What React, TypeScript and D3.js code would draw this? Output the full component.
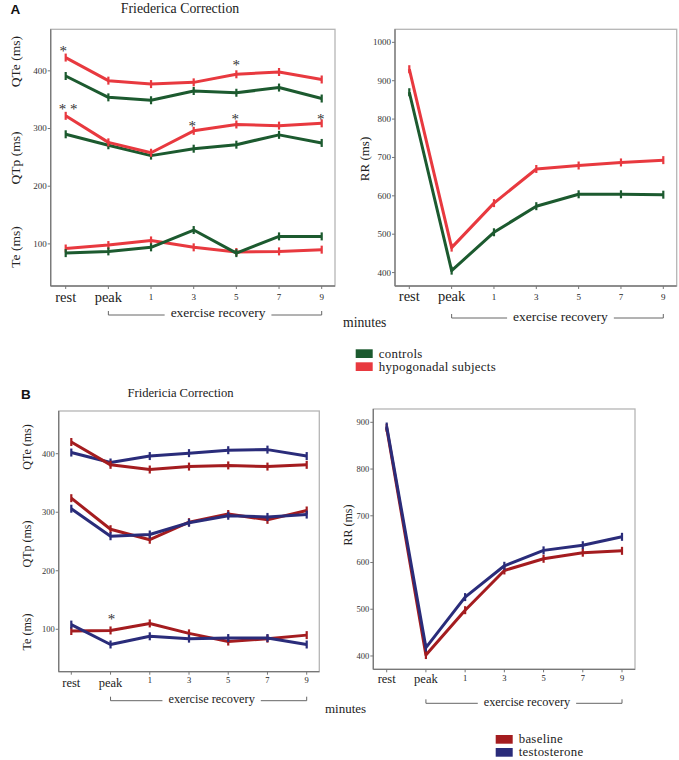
import React from "react";
import * as d3 from "d3";

const categories = ["rest", "peak", "1", "3", "5", "7", "9"];

// Panel A (controls vs hypogonadal)
const aControlsQTe = [391, 354, 349, 365, 362, 371, 352];
const aHypoQTe = [423, 383, 377, 380, 394, 398, 385];
const aControlsQTp = [290, 271, 253, 265, 272, 289, 275];
const aHypoQTp = [322, 276, 258, 296, 307, 305, 309];
const aControlsTe = [84, 87, 94, 124, 84, 113, 113];
const aHypoTe = [92, 98, 106, 94, 86, 87, 90];
const aControlsRR = [870, 405, 505, 573, 604, 604, 603];
const aHypoRR = [930, 465, 581, 670, 679, 687, 693];

// Panel B (baseline vs testosterone)
const bBaseQTe = [420, 381, 373, 378, 380, 378, 381];
const bTestoQTe = [402, 385, 396, 401, 406, 407, 396];
const bBaseQTp = [324, 271, 253, 283, 297, 287, 303];
const bTestoQTp = [306, 259, 262, 282, 294, 292, 296];
const bBaseTe = [97, 98, 110, 93, 79, 84, 90];
const bTestoTe = [108, 74, 88, 84, 85, 85, 74];
const bBaseRR = [888, 402, 498, 583, 608, 621, 625];
const bTestoRR = [891, 418, 526, 593, 626, 637, 655];

const aLeftTicks = [100, 200, 300, 400];
const aRightTicks = [400, 500, 600, 700, 800, 900, 1000];
const bLeftTicks = [100, 200, 300, 400];
const bRightTicks = [400, 500, 600, 700, 800, 900];

const aStars = [
  { cat: "rest", value: 439, label: "*", dx: -2.5 },
  { cat: "5", value: 416, label: "*", dx: 0 },
  { cat: "rest", value: 339, label: "* *", dx: 2.3 },
  { cat: "3", value: 309, label: "*", dx: -1.5 },
  { cat: "5", value: 321.5, label: "*", dx: -1 },
  { cat: "9", value: 321.5, label: "*", dx: -1 },
];
const bStars = [{ cat: "peak", value: 122, label: "*", dx: 1 }];

const legendA = ["controls", "hypogonadal subjects"];
const legendB = ["baseline", "testosterone"];

const GREEN = "#1c5a2f";
const RED = "#e8393f";
const DRED = "#a41c1f";
const NAVY = "#2a2c7a";
const SERIF = "'Liberation Serif', 'Times New Roman', serif";
const SANS = "'Liberation Sans', Arial, sans-serif";

type Series = { values: number[]; color: string };
type Star = { cat: string; value: number; label: string; dx: number };
type YLabel = { text: string; cy: number };

type PanelProps = {
  frame: { l: number; t: number; r: number; b: number };
  xRange: [number, number];
  yDomain: [number, number];
  ticks: number[];
  series: Series[];
  stars?: Star[];
  yLabels: YLabel[];
  yLabelX: number;
  yLabelSize: number;
  catSize: number;
  numSize: number;
  tickSize: number;
  catBaseline: number;
  numBaseline: number;
  bracketY: number;
  bracketText: number;
  recSize: number;
};

function Panel(p: PanelProps) {
  const { frame } = p;
  const x = d3.scalePoint<string>().domain(categories).range(p.xRange);
  const y = d3.scaleLinear().domain(p.yDomain).range([frame.b, frame.t]);
  const line = d3
    .line<number>()
    .x((_, i) => x(categories[i]) as number)
    .y((d) => y(d));
  const bx0 = x("peak") as number;
  const bx1 = x("9") as number;
  const textW = 7.02 * p.recSize;
  const tcx = (bx0 + bx1) / 2 + 3;
  return (
    <g>
      <rect
        x={frame.l}
        y={frame.t}
        width={frame.r - frame.l}
        height={frame.b - frame.t}
        fill="none"
        stroke="#b5b5b5"
        strokeWidth={1.3}
      />
      <line x1={frame.l} x2={frame.l} y1={frame.t} y2={frame.b} stroke="#777" strokeWidth={1.3} />
      <line x1={frame.l} x2={frame.r} y1={frame.b} y2={frame.b} stroke="#777" strokeWidth={1.3} />
      {p.ticks.map((t) => (
        <g key={t}>
          <line x1={frame.l - 3} x2={frame.l} y1={y(t)} y2={y(t)} stroke="#777" />
          <text
            x={frame.l - 4}
            y={y(t)}
            dy="0.33em"
            textAnchor="end"
            fontFamily={SERIF}
            fontSize={p.tickSize}
            fill="#333"
          >
            {t}
          </text>
        </g>
      ))}
      {categories.map((c) => {
        const big = c === "rest" || c === "peak";
        return (
          <g key={c}>
            <line x1={x(c)} x2={x(c)} y1={frame.b} y2={frame.b + 3} stroke="#777" />
            <text
              x={x(c)}
              y={big ? p.catBaseline : p.numBaseline}
              textAnchor="middle"
              fontFamily={SERIF}
              fontSize={big ? p.catSize : p.numSize}
              fill="#222"
            >
              {c}
            </text>
          </g>
        );
      })}
      {p.series.map((s, i) => (
        <g key={i}>
          <path d={line(s.values) || ""} fill="none" stroke={s.color} strokeWidth={3} strokeLinejoin="round" />
          {s.values.map((v, j) => (
            <line
              key={j}
              x1={x(categories[j])}
              x2={x(categories[j])}
              y1={y(v) - 4}
              y2={y(v) + 4}
              stroke={s.color}
              strokeWidth={2.2}
            />
          ))}
        </g>
      ))}
      {(p.stars || []).map((s, i) => (
        <text
          key={i}
          x={(x(s.cat) as number) + s.dx}
          y={y(s.value) + 0.53 * 15}
          textAnchor="middle"
          fontFamily={SERIF}
          fontSize={15}
          fill="#333"
        >
          {s.label}
        </text>
      ))}
      {p.yLabels.map((l) => (
        <text
          key={l.text}
          transform={`translate(${p.yLabelX},${l.cy}) rotate(-90)`}
          textAnchor="middle"
          fontFamily={SERIF}
          fontSize={p.yLabelSize}
          fill="#222"
        >
          {l.text}
        </text>
      ))}
      <path
        d={`M${bx0},${p.bracketY - 4}V${p.bracketY}H${tcx - textW / 2 - 6}M${tcx + textW / 2 + 6},${p.bracketY}H${bx1}V${p.bracketY - 4}`}
        fill="none"
        stroke="#666"
        strokeWidth={1}
      />
      <text
        x={tcx}
        y={p.bracketText}
        textAnchor="middle"
        fontFamily={SERIF}
        fontSize={p.recSize}
        fill="#222"
      >
        exercise recovery
      </text>
    </g>
  );
}

function Legend({ x, y, labels, colors, size }: { x: number; y: number; labels: string[]; colors: string[]; size: number }) {
  return (
    <g>
      {labels.map((l, i) => (
        <g key={l}>
          <rect x={x} y={y + i * 13} width={17} height={8.7} fill={colors[i]} />
          <text x={x + 23} y={y + i * 13 + 8.3} fontFamily={SERIF} fontSize={size} fill="#222" letterSpacing={0.3}>
            {l}
          </text>
        </g>
      ))}
    </g>
  );
}

export default function App() {
  return (
    <svg
      width={679}
      height={760}
      style={{ position: "absolute", left: 0, top: 0, background: "#fff" }}
    >
      <rect width={679} height={760} fill="#fff" />
      {/* Panel A */}
      <text x={10.5} y={13.5} fontFamily={SANS} fontWeight="bold" fontSize={13.5} fill="#111">
        A
      </text>
      <text x={180} y={12.5} textAnchor="middle" fontFamily={SERIF} fontSize={13.8} fill="#222">
        Friederica Correction
      </text>
      <Panel
        frame={{ l: 50.7, t: 29.3, r: 335, b: 286 }}
        xRange={[65.7, 321.7]}
        yDomain={[27, 472]}
        ticks={aLeftTicks}
        series={[
          { values: aControlsQTe, color: GREEN },
          { values: aHypoQTe, color: RED },
          { values: aControlsQTp, color: GREEN },
          { values: aHypoQTp, color: RED },
          { values: aHypoTe, color: RED },
          { values: aControlsTe, color: GREEN },
        ]}
        stars={aStars}
        yLabels={[
          { text: "QTe (ms)", cy: 61.7 },
          { text: "QTp (ms)", cy: 158 },
          { text: "Te (ms)", cy: 247 },
        ]}
        yLabelX={19.5}
        yLabelSize={13.5}
        catSize={14.5}
        numSize={9}
        tickSize={9}
        catBaseline={302}
        numBaseline={299.5}
        bracketY={315}
        bracketText={317}
        recSize={13.5}
      />
      <Panel
        frame={{ l: 395, t: 29.3, r: 676.7, b: 286 }}
        xRange={[409.3, 663.3]}
        yDomain={[365, 1034]}
        ticks={aRightTicks}
        series={[
          { values: aControlsRR, color: GREEN },
          { values: aHypoRR, color: RED },
        ]}
        yLabels={[{ text: "RR (ms)", cy: 159 }]}
        yLabelX={369}
        yLabelSize={13}
        catSize={14.5}
        numSize={9}
        tickSize={9}
        catBaseline={301}
        numBaseline={299.5}
        bracketY={318}
        bracketText={320.5}
        recSize={13.5}
      />
      <text x={343} y={326.5} fontFamily={SERIF} fontSize={13.7} fill="#222">
        minutes
      </text>
      <Legend x={355.7} y={349.3} labels={legendA} colors={[GREEN, RED]} size={12.9} />

      {/* Panel B */}
      <text x={21} y={398.5} fontFamily={SANS} fontWeight="bold" fontSize={13.5} fill="#111">
        B
      </text>
      <text x={180.5} y={396.5} textAnchor="middle" fontFamily={SERIF} fontSize={12.6} fill="#222">
        Fridericia Correction
      </text>
      <Panel
        frame={{ l: 58.7, t: 411, r: 319.3, b: 671.7 }}
        xRange={[71.3, 306.7]}
        yDomain={[27.5, 473]}
        ticks={bLeftTicks}
        series={[
          { values: bTestoQTe, color: NAVY },
          { values: bBaseQTe, color: DRED },
          { values: bBaseQTp, color: DRED },
          { values: bTestoQTp, color: NAVY },
          { values: bBaseTe, color: DRED },
          { values: bTestoTe, color: NAVY },
        ]}
        stars={bStars}
        yLabels={[
          { text: "QTe (ms)", cy: 447 },
          { text: "QTp (ms)", cy: 544 },
          { text: "Te (ms)", cy: 632 },
        ]}
        yLabelX={31}
        yLabelSize={12}
        catSize={12.5}
        numSize={8.5}
        tickSize={8.5}
        catBaseline={687.3}
        numBaseline={683}
        bracketY={700.7}
        bracketText={703}
        recSize={12.3}
      />
      <Panel
        frame={{ l: 373.3, t: 409, r: 635, b: 669.3 }}
        xRange={[386.7, 622]}
        yDomain={[371.5, 928.5]}
        ticks={bRightTicks}
        series={[
          { values: bBaseRR, color: DRED },
          { values: bTestoRR, color: NAVY },
        ]}
        yLabels={[{ text: "RR (ms)", cy: 525 }]}
        yLabelX={352}
        yLabelSize={12}
        catSize={12.5}
        numSize={8.5}
        tickSize={8.5}
        catBaseline={682.7}
        numBaseline={680.5}
        bracketY={703.3}
        bracketText={706}
        recSize={12.3}
      />
      <text x={325} y={712.7} fontFamily={SERIF} fontSize={13} fill="#222">
        minutes
      </text>
      <Legend x={495.7} y={735} labels={legendB} colors={[DRED, NAVY]} size={12.8} />
    </svg>
  );
}
